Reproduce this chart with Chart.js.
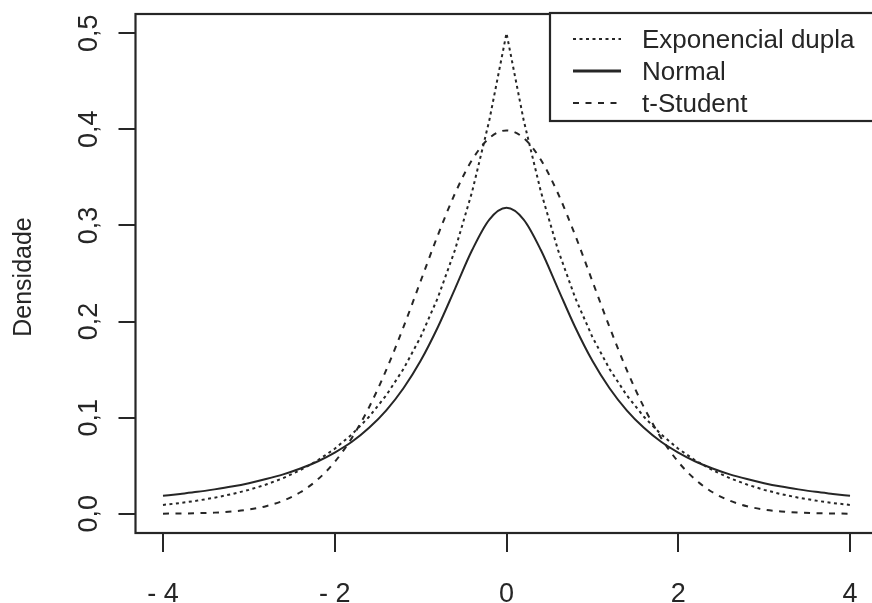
<!DOCTYPE html>
<html>
<head>
<meta charset="utf-8">
<script src="https://cdn.jsdelivr.net/npm/chart.js@4.4.0/dist/chart.umd.min.js"></script>
<style>
  html, body { margin: 0; padding: 0; background: #fff; overflow: hidden; }
  #wrap { width: 880px; height: 603px; position: relative; }
</style>
</head>
<body>
<div id="wrap"><canvas id="densChart"></canvas></div>
<script>
// valores
const xValues = [-4.0, -3.8, -3.6, -3.4, -3.2, -3.0, -2.8, -2.6, -2.4, -2.2, -2.0,
                 -1.8, -1.6, -1.4, -1.2, -1.0, -0.8, -0.6, -0.4, -0.2, 0.0,
                 0.2, 0.4, 0.6, 0.8, 1.0, 1.2, 1.4, 1.6, 1.8, 2.0,
                 2.2, 2.4, 2.6, 2.8, 3.0, 3.2, 3.4, 3.6, 3.8, 4.0];

// Exponencial dupla (pontilhada)
const expDupla = [0.0092, 0.0112, 0.0137, 0.0167, 0.0204, 0.0249, 0.0304, 0.0371, 0.0454, 0.0554, 0.0677,
                  0.0826, 0.1009, 0.1233, 0.1506, 0.1839, 0.2247, 0.2744, 0.3352, 0.4094, 0.5000,
                  0.4094, 0.3352, 0.2744, 0.2247, 0.1839, 0.1506, 0.1233, 0.1009, 0.0826, 0.0677,
                  0.0554, 0.0454, 0.0371, 0.0304, 0.0249, 0.0204, 0.0167, 0.0137, 0.0112, 0.0092];

// Normal (linha cheia)
const normal = [0.0187, 0.0207, 0.0228, 0.0254, 0.0283, 0.0318, 0.0361, 0.0410, 0.0471, 0.0544, 0.0637,
                0.0749, 0.0894, 0.1076, 0.1306, 0.1592, 0.1941, 0.2341, 0.2744, 0.3061, 0.3183,
                0.3061, 0.2744, 0.2341, 0.1941, 0.1592, 0.1306, 0.1076, 0.0894, 0.0749, 0.0637,
                0.0544, 0.0471, 0.0410, 0.0361, 0.0318, 0.0283, 0.0254, 0.0228, 0.0207, 0.0187];

// t-Student (tracejada)
const tStudent = [0.0001, 0.0003, 0.0006, 0.0012, 0.0024, 0.0044, 0.0079, 0.0136, 0.0224, 0.0355, 0.0540,
                  0.0790, 0.1109, 0.1497, 0.1942, 0.2420, 0.2897, 0.3332, 0.3683, 0.3910, 0.3989,
                  0.3910, 0.3683, 0.3332, 0.2897, 0.2420, 0.1942, 0.1497, 0.1109, 0.0790, 0.0540,
                  0.0355, 0.0224, 0.0136, 0.0079, 0.0044, 0.0024, 0.0012, 0.0006, 0.0003, 0.0001];

const xTicks = [-4, -2, 0, 2, 4];
const xTickLabels = ['- 4', '- 2', '0', '2', '4'];
const yTicks = [0, 0.1, 0.2, 0.3, 0.4, 0.5];
const yTickLabels = ['0,0', '0,1', '0,2', '0,3', '0,4', '0,5'];
const legendLabels = ['Exponencial dupla', 'Normal', 't-Student'];

const INK = '#262626';
const FAMILY = '"Liberation Sans", Arial, sans-serif';

function toPoints(arr) {
    return xValues.map((x, i) => ({ x: x, y: arr[i] }));
}

// desenha caixa, rótulos e legenda no estilo do R
const rStylePlugin = {
    id: 'rStyle',
    afterDraw(chart) {
        const ctx = chart.ctx;
        const area = chart.chartArea;
        const xs = chart.scales.x;
        const ys = chart.scales.y;

        ctx.save();
        ctx.strokeStyle = INK;
        ctx.lineWidth = 2.2;
        ctx.strokeRect(area.left, area.top, area.right - area.left, area.bottom - area.top);

        ctx.fillStyle = INK;
        ctx.font = '27px ' + FAMILY;

        // eixo x
        ctx.textAlign = 'center';
        ctx.textBaseline = 'alphabetic';
        xTicks.forEach((v, i) => {
            ctx.fillText(xTickLabels[i], xs.getPixelForValue(v), 602);
        });

        // eixo y (texto vertical)
        yTicks.forEach((v, i) => {
            ctx.save();
            ctx.translate(97, ys.getPixelForValue(v));
            ctx.rotate(-Math.PI / 2);
            ctx.fillText(yTickLabels[i], 0, 0);
            ctx.restore();
        });

        ctx.font = '25px ' + FAMILY;
        ctx.save();
        ctx.translate(31, 277);
        ctx.rotate(-Math.PI / 2);
        ctx.fillText('Densidade', 0, 0);
        ctx.restore();

        // legenda
        const lx = 550, ly = 13, lw = 340, lh = 108;
        ctx.fillStyle = '#fff';
        ctx.fillRect(lx, ly, lw, lh);
        ctx.strokeStyle = INK;
        ctx.lineWidth = 2.2;
        ctx.strokeRect(lx, ly, lw, lh);

        const rows = [39, 71, 103];
        chart.data.datasets.forEach((ds, i) => {
            ctx.beginPath();
            ctx.setLineDash(ds.borderDash || []);
            ctx.lineWidth = ds.borderDash ? ds.borderWidth : 3;
            ctx.strokeStyle = INK;
            ctx.moveTo(573, rows[i]);
            ctx.lineTo(621, rows[i]);
            ctx.stroke();
            ctx.setLineDash([]);
            ctx.fillStyle = INK;
            ctx.textAlign = 'left';
            ctx.font = '26px ' + FAMILY;
            ctx.fillText(legendLabels[i], 642, rows[i] + 9);
        });
        ctx.restore();
    }
};

const ctx = document.getElementById('densChart').getContext('2d');

new Chart(ctx, {
    type: 'line',
    data: {
        datasets: [
            {
                label: legendLabels[0],
                data: toPoints(expDupla),
                borderColor: INK,
                borderWidth: 2,
                borderDash: [3, 3.5],
                pointRadius: 0,
                tension: 0
            },
            {
                label: legendLabels[1],
                data: toPoints(normal),
                borderColor: INK,
                borderWidth: 2,
                pointRadius: 0,
                cubicInterpolationMode: 'monotone'
            },
            {
                label: legendLabels[2],
                data: toPoints(tStudent),
                borderColor: INK,
                borderWidth: 2,
                borderDash: [6, 6.5],
                pointRadius: 0,
                cubicInterpolationMode: 'monotone'
            }
        ]
    },
    options: {
        responsive: true,
        maintainAspectRatio: false,
        animation: false,
        devicePixelRatio: 1,
        layout: { padding: { top: 14, right: 2.5, left: 0, bottom: 0 } },
        plugins: {
            legend: { display: false },
            tooltip: { enabled: false }
        },
        scales: {
            x: {
                type: 'linear',
                min: -4.32,
                max: 4.32,
                afterBuildTicks: s => { s.ticks = xTicks.map(v => ({ value: v })); },
                afterFit: s => { s.height = 70; },
                ticks: { display: false },
                border: { display: false },
                grid: { drawOnChartArea: false, drawTicks: true, tickLength: 19, color: INK, lineWidth: 2 }
            },
            y: {
                type: 'linear',
                min: -0.02,
                max: 0.52,
                afterBuildTicks: s => { s.ticks = yTicks.map(v => ({ value: v })); },
                afterFit: s => { s.width = 135.5; },
                ticks: { display: false },
                border: { display: false },
                grid: { drawOnChartArea: false, drawTicks: true, tickLength: 17, color: INK, lineWidth: 2 }
            }
        }
    },
    plugins: [rStylePlugin]
});
</script>
</body>
</html>
